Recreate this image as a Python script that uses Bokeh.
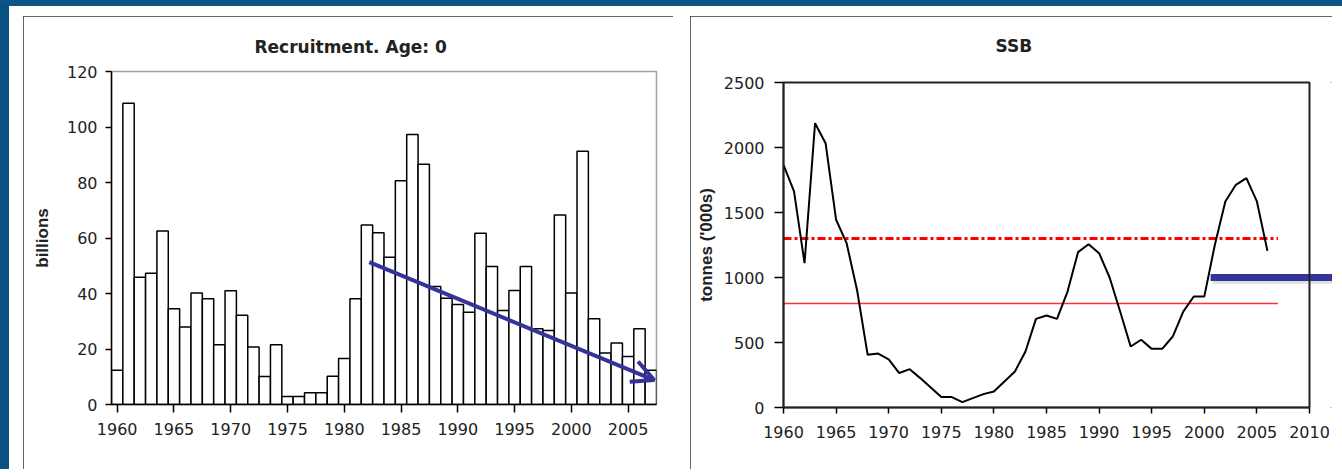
from bokeh.plotting import figure
from bokeh.models import Arrow, OpenHead, FixedTicker, Range1d, Title
from bokeh.layouts import row
from bokeh.embed import file_html
from bokeh.resources import INLINE

# ---------------- data ----------------
rec_years = list(range(1960, 2008))
recruitment = [12.3, 108.6, 45.9, 47.3, 62.5, 34.5, 27.9, 40.2, 38.1, 21.5,
               41.0, 32.2, 20.7, 10.1, 21.5, 2.9, 2.9, 4.2, 4.2, 10.2,
               16.6, 38.1, 64.7, 61.9, 53.1, 80.6, 97.3, 86.6, 42.5, 38.3,
               36.0, 33.2, 61.7, 49.7, 33.9, 41.1, 49.7, 27.3, 26.7, 68.3,
               40.2, 91.3, 30.9, 18.6, 22.2, 17.3, 27.3, 12.3]

ssb_years = list(range(1960, 2007))
ssb = [1867, 1662, 1110, 2187, 2033, 1444, 1264, 900, 405, 415,
       370, 265, 295, 226, 154, 80, 80, 41, 72, 103,
       123, 200, 277, 431, 682, 708, 682, 892, 1195, 1256,
       1187, 1000, 738, 469, 521, 451, 451, 546, 738, 854,
       854, 1250, 1585, 1713, 1764, 1585, 1205]

ref_years = [1960, 2007]
bpa = [1300, 1300]
blim = [800, 800]

rec_ticks = [1960, 1965, 1970, 1975, 1980, 1985, 1990, 1995, 2000, 2005]
rec_yticks = [0, 20, 40, 60, 80, 100, 120]
ssb_ticks = [1960, 1965, 1970, 1975, 1980, 1985, 1990, 1995, 2000, 2005, 2010]
ssb_yticks = [0, 500, 1000, 1500, 2000, 2500]
ssb_xlim = (1960, 2010)
ssb_ylim = (0, 2500)

# trend arrow on recruitment (data units)
trend_start = (1982.2, 51.3)
trend_end = (2007.3, 8.8)
# highlight bar on SSB (data units)
mark_start = (2000.6, 1000)
mark_end = (2014.0, 1000)

TICK_FONT = "DejaVu Sans"
LABEL_FONT = "Liberation Sans"

PANEL_STYLE = {"outline": "2px solid #333333", "outline-offset": "-2px",
               "background-color": "white"}


def style_axes(p, xtick_out, xstand, ytick_out, ystand):
    for ax in p.xaxis + p.yaxis:
        ax.axis_line_color = "black"
        ax.axis_line_width = 1.5
        ax.major_tick_line_color = "black"
        ax.major_tick_line_width = 1.5
        ax.major_tick_in = 0
        ax.minor_tick_line_color = None
        ax.major_label_text_font = TICK_FONT
        ax.major_label_text_font_size = "16px"
        ax.major_label_text_color = "#222222"
        ax.axis_label_text_font = LABEL_FONT
        ax.axis_label_text_font_size = "17px"
        ax.axis_label_text_font_style = "bold"
        ax.axis_label_text_color = "#222222"
    p.xaxis.major_tick_out = xtick_out
    p.xaxis.major_label_standoff = xstand
    p.yaxis.major_tick_out = ytick_out
    p.yaxis.major_label_standoff = ystand
    p.xgrid.visible = False
    p.ygrid.visible = False
    p.background_fill_color = "white"
    p.border_fill_color = "white"


def add_title(p, text, offset, gap):
    # invisible spacer next to the frame, then the real title
    p.add_layout(Title(text=" ", text_font_size="1px", standoff=gap,
                       text_color="white"), "above")
    p.add_layout(Title(text=text, align="left", offset=offset, standoff=6,
                       text_font=TICK_FONT, text_font_size="17px",
                       text_font_style="bold", text_color="#222222"), "above")


H = 453

# ---------------- left: recruitment ----------------
p1 = figure(width=650, height=H, title=None,
            x_range=Range1d(1959.5, 2007.5), y_range=Range1d(0, 120),
            output_backend="svg", toolbar_location=None,
            min_border_left=88, min_border_right=17,
            min_border_top=55, min_border_bottom=65)
p1.frame_align = False
p1.styles = PANEL_STYLE
add_title(p1, "Recruitment. Age: 0", 143, 9)

p1.vbar(x=rec_years, top=recruitment, width=1.0, bottom=0,
        fill_color="white", line_color="black", line_width=1.5)

style_axes(p1, 8, 10, 6, 8)
p1.xaxis.ticker = FixedTicker(ticks=rec_ticks)
p1.yaxis.ticker = FixedTicker(ticks=rec_yticks)
p1.yaxis.axis_label = "billions"
p1.yaxis.axis_label_standoff = 12
p1.outline_line_color = "#a0a0a0"
p1.outline_line_width = 1.5

p1.add_layout(Arrow(end=OpenHead(size=22, line_color="#333399", line_width=4),
                    x_start=trend_start[0], y_start=trend_start[1],
                    x_end=trend_end[0], y_end=trend_end[1],
                    line_color="#333399", line_width=4))

# ---------------- right: SSB ----------------
# the frame runs to the panel's right edge so that the highlight bar can leave
# the plotting box; the visible plot box is drawn from ssb_xlim / ssb_ylim
W2, L2 = 642, 93
FRAME_W2 = 526  # px between 1960 and 2010
x_max2 = ssb_xlim[0] + (ssb_xlim[1] - ssb_xlim[0]) * (W2 - L2) / FRAME_W2
p2 = figure(width=W2, height=H, title=None,
            x_range=Range1d(ssb_xlim[0], x_max2), y_range=Range1d(*ssb_ylim),
            output_backend="svg", toolbar_location=None,
            min_border_left=L2, min_border_right=0,
            min_border_top=66, min_border_bottom=62)
p2.frame_align = False
p2.styles = PANEL_STYLE
add_title(p2, "SSB", 212, 21)

p2.line(ref_years, bpa, line_color="#ff0000", line_width=3, line_dash="8 3 3 3")
p2.line(ref_years, blim, line_color="#ff3333", line_width=1.5)
p2.line(ssb_years, ssb, line_color="black", line_width=2)

style_axes(p2, 6, 12, 9, 10)
p2.xaxis.ticker = FixedTicker(ticks=ssb_ticks)
p2.xaxis.bounds = ssb_xlim
p2.yaxis.ticker = FixedTicker(ticks=ssb_yticks)
p2.yaxis.axis_label = "tonnes ('000s)"
p2.yaxis.axis_label_standoff = 5
p2.outline_line_color = None

p2.add_layout(Arrow(end=None, x_start=mark_start[0] + 0.2, y_start=mark_start[1] - 22,
                    x_end=mark_end[0], y_end=mark_end[1] - 22,
                    line_color="#999999", line_alpha=0.3, line_width=7))
p2.add_layout(Arrow(end=None, x_start=mark_start[0], y_start=mark_start[1],
                    x_end=mark_end[0], y_end=mark_end[1],
                    line_color="#333399", line_width=7))
# plot box (drawn on top, like the original)
p2.quad(left=[ssb_xlim[0]], right=[ssb_xlim[1]], bottom=[ssb_ylim[0]], top=[ssb_ylim[1]],
        fill_color=None, line_color="#222222", line_width=2, level="overlay")

layout = row(p1, p2, spacing=17, margin=(0, 0, 0, 0),
             styles={"border-top": "6px solid #0b5688",
                     "border-left": "9px solid #0a5282",
                     "padding-top": "10px", "padding-left": "14px",
                     "padding-right": "10px"})
open("out.html", "w").write(file_html(layout, INLINE))
